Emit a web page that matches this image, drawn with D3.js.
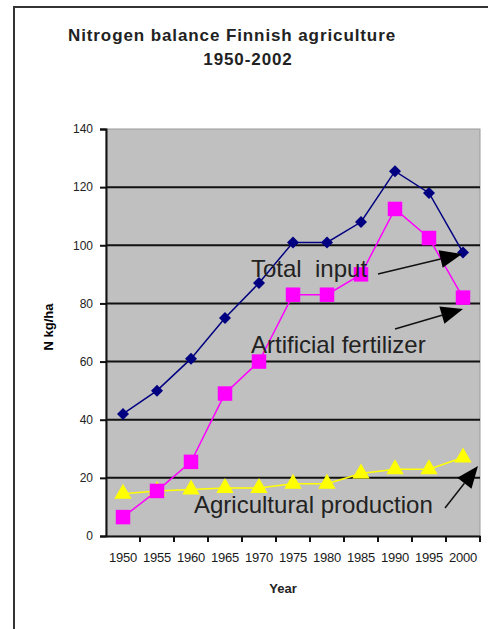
<!DOCTYPE html>
<html><head><meta charset="utf-8">
<script src="https://cdn.jsdelivr.net/npm/d3@7"></script>
<style>body{margin:0;background:#fff}svg{display:block}</style>
</head><body>
<script>
const years = ["1950","1955","1960","1965","1970","1975","1980","1985","1990","1995","2000"];
const totalInput = [42, 50, 61, 75, 87, 101, 101, 108, 125.5, 118, 97.5];
const fertilizer = [6.5, 15.5, 25.5, 49, 60, 83, 83, 90, 112.5, 102.5, 82];
const production = [14.5, 15.5, 16, 16.5, 16.5, 18, 18, 21.5, 23, 23, 27];
const yTicks = [0, 20, 40, 60, 80, 100, 120, 140];

const W = 488, H = 629;
const svg = d3.select("body").append("svg").attr("width", W).attr("height", H);
const font = "'Liberation Sans', Arial, sans-serif";

// outer frame
svg.append("path").attr("d", "M14,629 L14,7 L488,7").attr("fill", "none")
  .attr("stroke", "#333").attr("stroke-width", 2);

const L = 106, R = 480, T = 129, B = 536;
const x = d3.scaleBand().domain(years).range([L, R]);
const y = d3.scaleLinear().domain([0, 140]).range([B, T]);

svg.append("rect").attr("x", L).attr("y", T).attr("width", R - L).attr("height", B - T)
  .attr("fill", "#c0c0c0").attr("stroke", "#9a9a9a").attr("stroke-width", 1);

// gridlines
svg.append("g").selectAll("line").data(yTicks.filter(d => d > 0 && d < 140)).join("line")
  .attr("x1", L).attr("x2", R).attr("y1", d => y(d)).attr("y2", d => y(d))
  .attr("stroke", "#111").attr("stroke-width", 2);

// y axis
const ya = svg.append("g").attr("transform", `translate(${L},0)`)
  .call(d3.axisLeft(y).tickValues(yTicks).tickSize(6).tickPadding(7));
ya.select(".domain").attr("stroke", "#111").attr("stroke-width", 2);
ya.selectAll(".tick line").attr("stroke", "#111").attr("stroke-width", 2);
ya.selectAll("text").attr("font-family", font).attr("font-size", 12).attr("fill", "#222");

// x axis
const xa = svg.append("g").attr("transform", `translate(0,${B})`)
  .call(d3.axisBottom(x).tickSize(0).tickPadding(17));
xa.select(".domain").attr("stroke", "#111").attr("stroke-width", 2);
xa.selectAll("text").attr("font-family", font).attr("font-size", 13)
  .attr("letter-spacing", "-0.2px").attr("fill", "#1a1a1a");
// boundary ticks
svg.append("g").selectAll("line").data(years.slice(1).concat(["__end"])).join("line")
  .attr("x1", d => d === "__end" ? R : x(d)).attr("x2", d => d === "__end" ? R : x(d))
  .attr("y1", B).attr("y2", B + 6).attr("stroke", "#111").attr("stroke-width", 2);

// titles
svg.append("text").attr("x", 232).attr("y", 41).attr("text-anchor", "middle")
  .attr("font-family", font).attr("font-weight", "bold").attr("font-size", 17)
  .attr("letter-spacing", "0.9px").attr("fill", "#222").text("Nitrogen balance Finnish agriculture");
svg.append("text").attr("x", 248).attr("y", 65).attr("text-anchor", "middle")
  .attr("font-family", font).attr("font-weight", "bold").attr("font-size", 17)
  .attr("letter-spacing", "0.9px").attr("fill", "#222").text("1950-2002");
svg.append("text").attr("x", 283).attr("y", 593).attr("text-anchor", "middle")
  .attr("font-family", font).attr("font-weight", "bold").attr("font-size", 13)
  .attr("fill", "#222").text("Year");
svg.append("text").attr("transform", "translate(53,327) rotate(-90)").attr("text-anchor", "middle")
  .attr("font-family", font).attr("font-weight", "bold").attr("font-size", 13)
  .attr("fill", "#000").text("N kg/ha");

const cx = d => x(d) + x.bandwidth() / 2;
function series(vals, color, sym, size, rot) {
  const line = d3.line().x((d, i) => cx(years[i])).y(d => y(d));
  svg.append("path").datum(vals).attr("d", line).attr("fill", "none")
    .attr("stroke", color).attr("stroke-width", 1.5);
  svg.append("g").selectAll("path").data(vals).join("path")
    .attr("transform", (d, i) => `translate(${cx(years[i])},${y(d)}) rotate(${rot})`)
    .attr("d", d3.symbol().type(sym).size(size)).attr("fill", color);
}
series(production, "#ffff00", d3.symbolTriangle, 130, 0);
series(fertilizer, "#ff00ff", d3.symbolSquare, 210, 0);
series(totalInput, "#000080", d3.symbolSquare, 72, 45);

// annotations
const ann = [
  {t: "Total\u00a0 input", x: 251, y: 277, x1: 378, y1: 274, x2: 462, y2: 254},
  {t: "Artificial fertilizer", x: 251, y: 353, x1: 395, y1: 329, x2: 463, y2: 309},
  {t: "Agricultural production", x: 194, y: 513, x1: 445, y1: 508, x2: 478, y2: 466}
];
ann.forEach(a => {
  svg.append("text").attr("x", a.x).attr("y", a.y).attr("font-family", font)
    .attr("font-size", 24).attr("fill", "#222").text(a.t);
  const ang = Math.atan2(a.y2 - a.y1, a.x2 - a.x1);
  const len = 22, wid = 9;
  const bx = a.x2 - len * Math.cos(ang), by = a.y2 - len * Math.sin(ang);
  svg.append("line").attr("x1", a.x1).attr("y1", a.y1).attr("x2", bx).attr("y2", by)
    .attr("stroke", "#111").attr("stroke-width", 1.5);
  const px = -Math.sin(ang) * wid, py = Math.cos(ang) * wid;
  svg.append("path").attr("d", `M${a.x2},${a.y2} L${bx + px},${by + py} L${bx - px},${by - py} Z`)
    .attr("fill", "#000");
});
</script>
</body></html>
